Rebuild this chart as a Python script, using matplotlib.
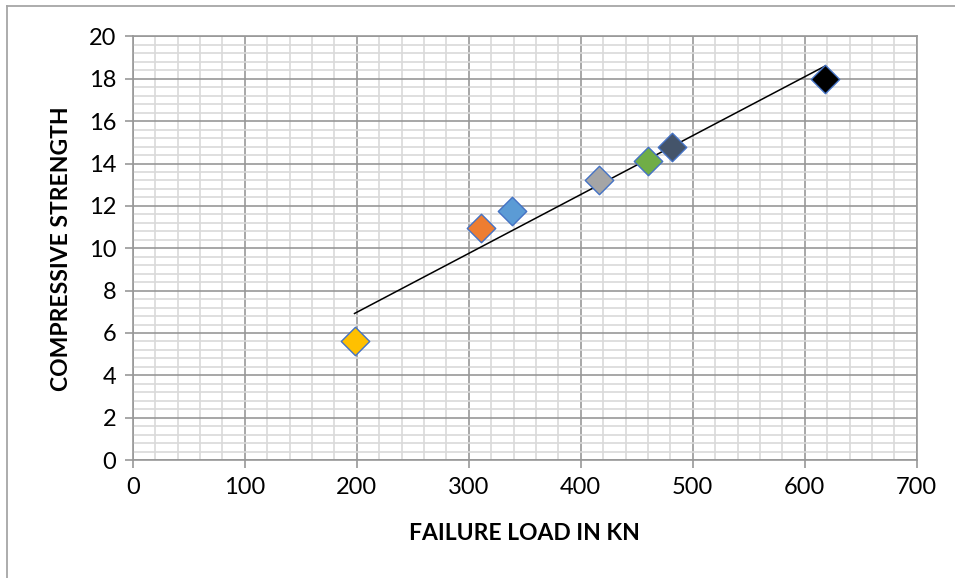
import numpy as np
import matplotlib
matplotlib.use("Agg")
import matplotlib.pyplot as plt
from matplotlib.lines import Line2D
from matplotlib.ticker import MultipleLocator

# failure load (kN) vs compressive strength
load = [198, 311, 339, 416, 460, 481, 618]
strength = [5.6, 10.95, 11.75, 13.2, 14.1, 14.8, 18.0]
colors = ["#FFC000", "#ED7D31", "#5B9BD5", "#A5A5A5", "#70AD47", "#44546A", "#000000"]

plt.rcParams["font.family"] = ["Lato", "DejaVu Sans"]

fig = plt.figure(figsize=(9.55, 5.78), dpi=100)
ax = fig.add_axes([0.139, 0.204, 0.821, 0.733])

# chart frame (left + top edges visible)
fig.add_artist(Line2D([0.0075, 0.0075], [0.0, 0.99], transform=fig.transFigure, color="#a6a6a6", lw=1.3))
fig.add_artist(Line2D([0.0075, 1.0], [0.99, 0.99], transform=fig.transFigure, color="#a6a6a6", lw=1.3))

ax.set_xlim(0, 700)
ax.set_ylim(0, 20)
ax.xaxis.set_major_locator(MultipleLocator(100))
ax.xaxis.set_minor_locator(MultipleLocator(20))
ax.yaxis.set_major_locator(MultipleLocator(2))
ax.yaxis.set_minor_locator(MultipleLocator(0.4))
ax.grid(which="minor", color="#d9d9d9", lw=1.2)
ax.grid(which="major", color="#989898", lw=1.2)
ax.set_axisbelow(True)

for s in ax.spines.values():
    s.set_color("#989898")
    s.set_linewidth(1.2)

ax.tick_params(which="major", length=6, width=1.2, color="#989898", labelsize=17, pad=6)
ax.tick_params(which="minor", length=0)

# linear trendline
k, b = np.polyfit(load, strength, 1)
xs = np.array([min(load), max(load)])
ax.plot(xs, k * xs + b, color="black", lw=1.1, zorder=2)

for x, y, c in zip(load, strength, colors):
    ax.scatter(x, y, marker="D", s=210, color=c, edgecolor="#4472C4", linewidth=1.0, zorder=3)

ax.set_xlabel("FAILURE LOAD IN KN", fontsize=16.5, fontweight="bold", labelpad=18)
ax.set_ylabel("COMPRESSIVE STRENGTH", fontsize=16.5, fontweight="bold", labelpad=12)

fig.savefig("out.png", dpi=100)
